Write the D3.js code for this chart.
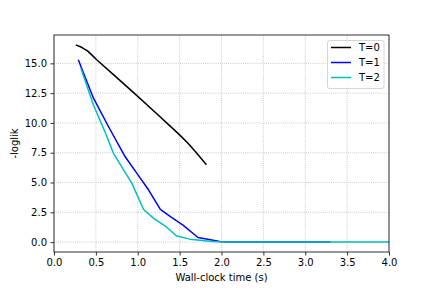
<!DOCTYPE html>
<html>
<head>
<meta charset="utf-8">
<script src="https://cdn.jsdelivr.net/npm/d3@7"></script>
<style>
body { margin: 0; background: #fff; }
svg { display: block; font-family: "DejaVu Sans", sans-serif; }
</style>
</head>
<body>
<svg id="chart" width="432" height="288"></svg>
<script>
// Data
const seriesNames = ["T=0", "T=1", "T=2"];
const seriesColors = ["#000000", "#0000ff", "#00bfbf"];
const t0X = [0.26, 0.33, 0.40, 0.46, 0.51, 0.75, 1.0, 1.25, 1.4, 1.5, 1.6, 1.7, 1.82];
const t0Y = [16.55, 16.35, 16.05, 15.65, 15.3, 13.8, 12.23, 10.62, 9.65, 9.0, 8.3, 7.5, 6.49];
const t1X = [0.29, 0.47, 0.65, 0.85, 0.99, 1.13, 1.27, 1.39, 1.54, 1.72, 1.98, 2.1, 3.3];
const t1Y = [15.3, 12.1, 9.7, 7.16, 5.77, 4.37, 2.74, 2.13, 1.43, 0.39, 0.06, 0.0, 0.0];
const t2X = [0.32, 0.47, 0.6, 0.71, 0.93, 1.07, 1.19, 1.35, 1.46, 1.62, 1.86, 2.0, 4.0];
const t2Y = [14.6, 11.53, 9.4, 7.45, 4.93, 2.74, 1.99, 1.23, 0.53, 0.25, 0.08, 0.0, 0.0];
const xTicks = [0, 0.5, 1.0, 1.5, 2.0, 2.5, 3.0, 3.5, 4.0];
const yTicks = [0, 2.5, 5.0, 7.5, 10.0, 12.5, 15.0];
const xLabel = "Wall-clock time (s)";
const yLabel = "-loglik";

const seriesX = [t0X, t1X, t2X];
const seriesY = [t0Y, t1Y, t2Y];

const svg = d3.select("#chart");
const L = 54, R = 389, T = 35, B = 252;
const x = d3.scaleLinear().domain([0, 4]).range([L, R]);
const y = d3.scaleLinear().domain([-0.83, 17.38]).range([B, T]);

// grid
const grid = svg.append("g");
grid.selectAll(".gx").data(xTicks).join("line")
  .attr("x1", d => x(d)).attr("x2", d => x(d)).attr("y1", T).attr("y2", B)
  .attr("stroke", "#b0b0b0").attr("stroke-width", 0.8).attr("stroke-dasharray", "0.8,1.3");
grid.selectAll(".gy").data(yTicks).join("line")
  .attr("x1", L).attr("x2", R).attr("y1", d => y(d)).attr("y2", d => y(d))
  .attr("stroke", "#b0b0b0").attr("stroke-width", 0.8).attr("stroke-dasharray", "0.8,1.3");

// lines
const line = d3.line().x(d => x(d[0])).y(d => y(d[1]));
seriesNames.forEach((n, i) => {
  const pts = seriesX[i].map((v, j) => [v, seriesY[i][j]]);
  svg.append("path").datum(pts).attr("d", line)
    .attr("fill", "none").attr("stroke", seriesColors[i]).attr("stroke-width", 1.5)
    .attr("stroke-linejoin", "round");
});

// axes
const xAxis = d3.axisBottom(x).tickValues(xTicks).tickFormat(d3.format(".1f")).tickSize(3.5).tickPadding(3.5);
const yAxis = d3.axisLeft(y).tickValues(yTicks).tickFormat(d3.format(".1f")).tickSize(3.5).tickPadding(3.5);
const gx = svg.append("g").attr("transform", `translate(0,${B})`).call(xAxis);
const gy = svg.append("g").attr("transform", `translate(${L},0)`).call(yAxis);
[gx, gy].forEach(g => {
  g.select(".domain").remove();
  g.selectAll(".tick line").attr("stroke", "#000").attr("stroke-width", 0.8);
  g.selectAll(".tick text").attr("fill", "#000").style("font-size", "10px").style("font-family", "DejaVu Sans");
});

// spines
svg.append("rect").attr("x", L).attr("y", T).attr("width", R - L).attr("height", B - T)
  .attr("fill", "none").attr("stroke", "#000").attr("stroke-width", 0.8);

// labels
svg.append("text").attr("x", (L + R) / 2).attr("y", 281).attr("text-anchor", "middle")
  .style("font-size", "10px").attr("fill", "#000").text(xLabel);
svg.append("text").attr("transform", `translate(18,${(T + B) / 2}) rotate(-90)`).attr("text-anchor", "middle")
  .style("font-size", "10px").attr("fill", "#000").text(yLabel);

// legend
const lg = svg.append("g");
lg.append("rect").attr("x", 327.5).attr("y", 40.5).attr("width", 56.5).attr("height", 48)
  .attr("rx", 2).attr("fill", "#fff").attr("fill-opacity", 0.8).attr("stroke", "#cccccc").attr("stroke-width", 0.8);
seriesNames.forEach((n, i) => {
  const yy = 47.5 + i * 15;
  lg.append("line").attr("x1", 331).attr("x2", 351).attr("y1", yy).attr("y2", yy)
    .attr("stroke", seriesColors[i]).attr("stroke-width", 1.5);
  lg.append("text").attr("x", 359).attr("y", yy + 3.6).style("font-size", "10px").attr("fill", "#000").text(n);
});
</script>
</body>
</html>
